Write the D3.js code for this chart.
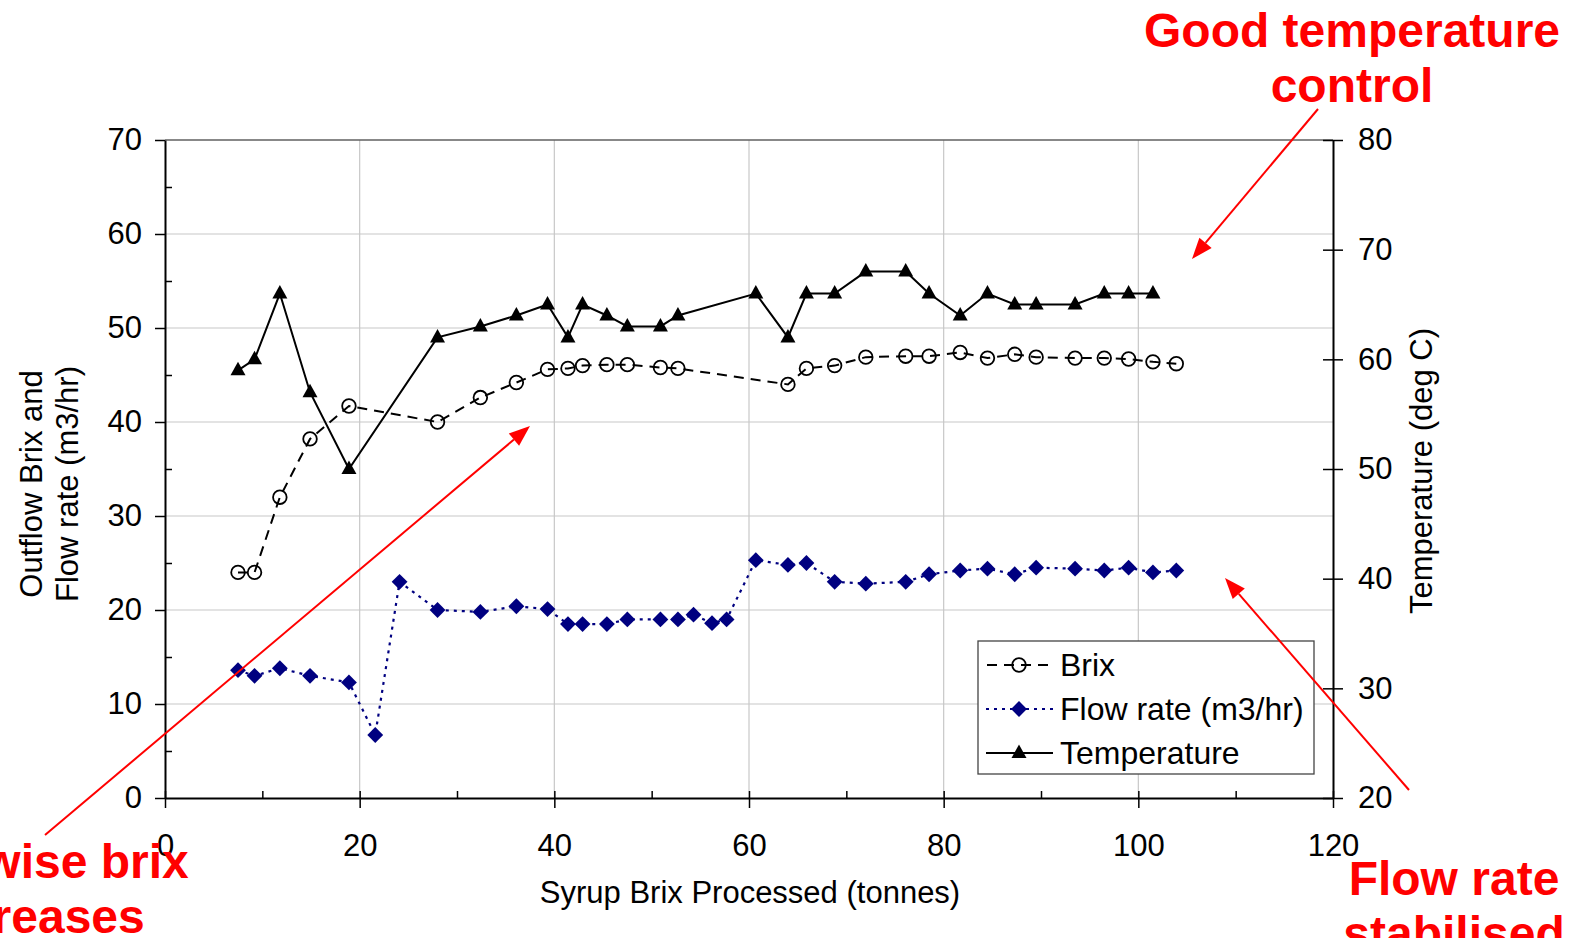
<!DOCTYPE html>
<html>
<head>
<meta charset="utf-8">
<script src="https://cdn.jsdelivr.net/npm/d3@7"></script>
<style>
  html, body { margin: 0; padding: 0; background: #fff; }
  svg { display: block; font-family: "Liberation Sans", Arial, sans-serif; }
</style>
</head>
<body>
<svg id="chart" width="1575" height="938"></svg>
<script>
// ---------- data ----------
const brixX = [7.5, 9.2, 11.8, 14.9, 18.9, 28.0, 32.4, 36.1, 39.3, 41.4, 42.9, 45.4, 47.5, 50.9, 52.7, 64.0, 65.9, 68.8, 72.0, 76.1, 78.5, 81.7, 84.5, 87.3, 89.5, 93.5, 96.5, 99.0, 101.5, 103.9];
const brixY = [24.0, 24.0, 32.0, 38.2, 41.7, 40.0, 42.6, 44.2, 45.6, 45.7, 46.0, 46.1, 46.1, 45.8, 45.7, 44.0, 45.7, 46.0, 46.9, 47.0, 47.0, 47.4, 46.8, 47.2, 46.9, 46.8, 46.8, 46.7, 46.4, 46.2];

const flowX = [7.5, 9.2, 11.8, 14.9, 18.9, 21.6, 24.1, 28.0, 32.4, 36.1, 39.3, 41.4, 42.9, 45.4, 47.5, 50.9, 52.7, 54.3, 56.2, 57.7, 60.7, 64.0, 65.9, 68.8, 72.0, 76.1, 78.5, 81.7, 84.5, 87.3, 89.5, 93.5, 96.5, 99.0, 101.5, 103.9];
const flowY = [13.6, 13.0, 13.8, 13.0, 12.3, 6.7, 23.0, 20.0, 19.8, 20.4, 20.1, 18.5, 18.5, 18.5, 19.0, 19.0, 19.0, 19.5, 18.6, 19.0, 25.3, 24.8, 25.0, 23.0, 22.8, 23.0, 23.8, 24.2, 24.4, 23.8, 24.5, 24.4, 24.2, 24.5, 24.0, 24.2];

const tempX = [7.5, 9.2, 11.8, 14.9, 18.9, 28.0, 32.4, 36.1, 39.3, 41.4, 42.9, 45.4, 47.5, 50.9, 52.7, 60.7, 64.0, 65.9, 68.8, 72.0, 76.1, 78.5, 81.7, 84.5, 87.3, 89.5, 93.5, 96.5, 99.0, 101.5];
const tempY = [59, 60, 66, 57, 50, 62, 63, 64, 65, 62, 65, 64, 63, 63, 64, 66, 62, 66, 66, 68, 68, 66, 64, 66, 65, 65, 65, 66, 66, 66];

const xTicks = [0, 20, 40, 60, 80, 100, 120];
const xMinorTicks = [10, 30, 50, 70, 90, 110];
const yLeftTicks = [0, 10, 20, 30, 40, 50, 60, 70];
const yLeftMinorTicks = [5, 15, 25, 35, 45, 55, 65];
const yRightTicks = [20, 30, 40, 50, 60, 70, 80];

const seriesNames = ["Brix", "Flow rate (m3/hr)", "Temperature"];
const xTitle = "Syrup Brix Processed (tonnes)";
const yLeftTitle = ["Outflow Brix and", "Flow rate (m3/hr)"];
const yRightTitle = "Temperature (deg C)";
const notes = [
  { lines: ["Good temperature", "control"] },
  { lines: ["Stepwise brix", "increases"] },
  { lines: ["Flow rate", "stabilised"] }
];

// ---------- layout ----------
const L = 165, R = 1333, T = 140, B = 798;
const FONT = 31;
const svg = d3.select("#chart");

const x = d3.scaleLinear().domain([0, 120]).range([L, R]);
const yL = d3.scaleLinear().domain([0, 70]).range([B, T]);
const yR = d3.scaleLinear().domain([20, 80]).range([B, T]);

// gridlines
const grid = svg.append("g").attr("stroke", "#c8c8c8").attr("stroke-width", 1.2);
grid.selectAll("line.h").data(yLeftTicks.filter(d => d > 0 && d < 70)).join("line")
  .attr("x1", L).attr("x2", R).attr("y1", d => yL(d)).attr("y2", d => yL(d));
grid.selectAll("line.v").data(xTicks.filter(d => d > 0 && d < 120)).join("line")
  .attr("x1", d => x(d)).attr("x2", d => x(d)).attr("y1", T).attr("y2", B);

// top border
svg.append("line").attr("x1", L).attr("x2", R).attr("y1", T).attr("y2", T)
  .attr("stroke", "#606060").attr("stroke-width", 1.5);

function styleAxis(g) {
  g.select(".domain").attr("stroke", "#000").attr("stroke-width", 2);
  g.selectAll(".tick line").attr("stroke", "#000").attr("stroke-width", 1.5);
  g.selectAll(".tick text").attr("font-size", FONT).attr("fill", "#000")
    .attr("font-family", '"Liberation Sans", Arial, sans-serif');
}

// x axis
svg.append("g").attr("transform", `translate(0,${B})`)
  .call(d3.axisBottom(x).tickValues(xTicks).tickSizeInner(10).tickSizeOuter(0).tickPadding(26).tickFormat(d3.format("d")))
  .call(styleAxis);
svg.append("g").attr("transform", `translate(0,${B})`)
  .call(d3.axisBottom(x).tickValues(xTicks.concat(xMinorTicks)).tickSize(-7).tickFormat(""))
  .call(g => g.select(".domain").remove())
  .call(styleAxis);

// left axis
svg.append("g").attr("transform", `translate(${L},0)`)
  .call(d3.axisLeft(yL).tickValues(yLeftTicks).tickSizeInner(10).tickSizeOuter(0).tickPadding(13).tickFormat(d3.format("d")))
  .call(styleAxis);
svg.append("g").attr("transform", `translate(${L},0)`)
  .call(d3.axisLeft(yL).tickValues(yLeftMinorTicks).tickSize(-7).tickFormat(""))
  .call(g => g.select(".domain").remove())
  .call(styleAxis);

// right axis
svg.append("g").attr("transform", `translate(${R},0)`)
  .call(d3.axisRight(yR).tickValues(yRightTicks).tickSizeInner(10).tickSizeOuter(0).tickPadding(15).tickFormat(d3.format("d")))
  .call(styleAxis);
svg.append("g").attr("transform", `translate(${R},0)`)
  .call(d3.axisRight(yR).tickValues(yRightTicks).tickSize(-10).tickFormat(""))
  .call(g => g.select(".domain").remove())
  .call(styleAxis);

// axis titles
svg.append("text").attr("x", (x(0) + x(120)) / 2 + 1).attr("y", 903)
  .attr("text-anchor", "middle").attr("font-size", FONT).text(xTitle);
yLeftTitle.forEach((t, i) => {
  svg.append("text")
    .attr("transform", `translate(${42 + i * 36},${484}) rotate(-90)`)
    .attr("text-anchor", "middle").attr("font-size", FONT).text(t);
});
svg.append("text")
  .attr("transform", `translate(1432,${471}) rotate(-90)`)
  .attr("text-anchor", "middle").attr("font-size", FONT).text(yRightTitle);

// ---------- series ----------
const brix = brixX.map((d, i) => [d, brixY[i]]);
const flow = flowX.map((d, i) => [d, flowY[i]]);
const temp = tempX.map((d, i) => [d, tempY[i]]);

const lineL = d3.line().x(d => x(d[0])).y(d => yL(d[1]));
const lineR = d3.line().x(d => x(d[0])).y(d => yR(d[1]));

svg.append("path").datum(flow).attr("d", lineL)
  .attr("fill", "none").attr("stroke", "#000080").attr("stroke-width", 2.2).attr("stroke-dasharray", "3,5");
svg.append("path").datum(brix).attr("d", lineL)
  .attr("fill", "none").attr("stroke", "#000").attr("stroke-width", 2).attr("stroke-dasharray", "10,7");
svg.append("path").datum(temp).attr("d", lineR)
  .attr("fill", "none").attr("stroke", "#000").attr("stroke-width", 2);

const diamond = d3.symbol().type(d3.symbolSquare).size(125);
const tri = "M0,-8.5 L7.5,5 L-7.5,5 Z";

svg.append("g").selectAll("path").data(flow).join("path")
  .attr("d", diamond())
  .attr("transform", d => `translate(${x(d[0])},${yL(d[1])}) rotate(45)`)
  .attr("fill", "#000080");
svg.append("g").selectAll("circle").data(brix).join("circle")
  .attr("cx", d => x(d[0])).attr("cy", d => yL(d[1])).attr("r", 6.8)
  .attr("fill", "none").attr("stroke", "#000").attr("stroke-width", 1.8);
svg.append("g").selectAll("path").data(temp).join("path")
  .attr("d", tri)
  .attr("transform", d => `translate(${x(d[0])},${yR(d[1])})`)
  .attr("fill", "#000");

// ---------- legend ----------
const LEG_FS = 32;
const lg = svg.append("g");
lg.append("rect").attr("x", 978).attr("y", 641).attr("width", 336).attr("height", 133)
  .attr("fill", "#fff").attr("stroke", "#444").attr("stroke-width", 1.3);
const rows = [665, 709, 753];
const lx1 = 986, lx2 = 1053, lm = 1019;
// Brix row
lg.append("line").attr("x1", lx1).attr("x2", lx2).attr("y1", rows[0]).attr("y2", rows[0])
  .attr("stroke", "#000").attr("stroke-width", 2).attr("stroke-dasharray", "10,7").attr("stroke-dashoffset", -1);
lg.append("circle").attr("cx", lm).attr("cy", rows[0]).attr("r", 6.8)
  .attr("fill", "none").attr("stroke", "#000").attr("stroke-width", 1.8);
// Flow row
lg.append("line").attr("x1", lx1).attr("x2", lx2).attr("y1", rows[1]).attr("y2", rows[1])
  .attr("stroke", "#000080").attr("stroke-width", 2.2).attr("stroke-dasharray", "3,5");
lg.append("path").attr("d", diamond()).attr("transform", `translate(${lm},${rows[1]}) rotate(45)`).attr("fill", "#000080");
// Temp row
lg.append("line").attr("x1", lx1).attr("x2", lx2).attr("y1", rows[2]).attr("y2", rows[2])
  .attr("stroke", "#000").attr("stroke-width", 2);
lg.append("path").attr("d", tri).attr("transform", `translate(${lm},${rows[2]})`).attr("fill", "#000");
seriesNames.forEach((n, i) => {
  lg.append("text").attr("x", 1060).attr("y", rows[i] + 11).attr("font-size", LEG_FS).text(n);
});

// ---------- annotations ----------
const RED = "#ff0000";
function arrow(x1, y1, x2, y2) {
  const ang = Math.atan2(y2 - y1, x2 - x1);
  const len = 21, half = 8;
  const bx = x2 - len * Math.cos(ang), by = y2 - len * Math.sin(ang);
  svg.append("line").attr("x1", x1).attr("y1", y1).attr("x2", bx).attr("y2", by)
    .attr("stroke", RED).attr("stroke-width", 2);
  const px = -Math.sin(ang) * half, py = Math.cos(ang) * half;
  svg.append("path")
    .attr("d", `M${x2},${y2} L${bx + px},${by + py} L${bx - px},${by - py} Z`)
    .attr("fill", RED);
}
arrow(1318, 109, 1192, 259);
arrow(45, 835, 530, 426);
arrow(1409, 790, 1225, 578);

const NOTE_FS = 48;
const notePos = [[1352, 47], [34, 878], [1454, 895]];
notes.forEach((n, i) => {
  n.lines.forEach((t, j) => {
    svg.append("text").attr("x", notePos[i][0]).attr("y", notePos[i][1] + j * 55)
      .attr("text-anchor", "middle").attr("font-size", NOTE_FS).attr("font-weight", "bold")
      .attr("fill", RED).text(t);
  });
});
</script>
</body>
</html>
